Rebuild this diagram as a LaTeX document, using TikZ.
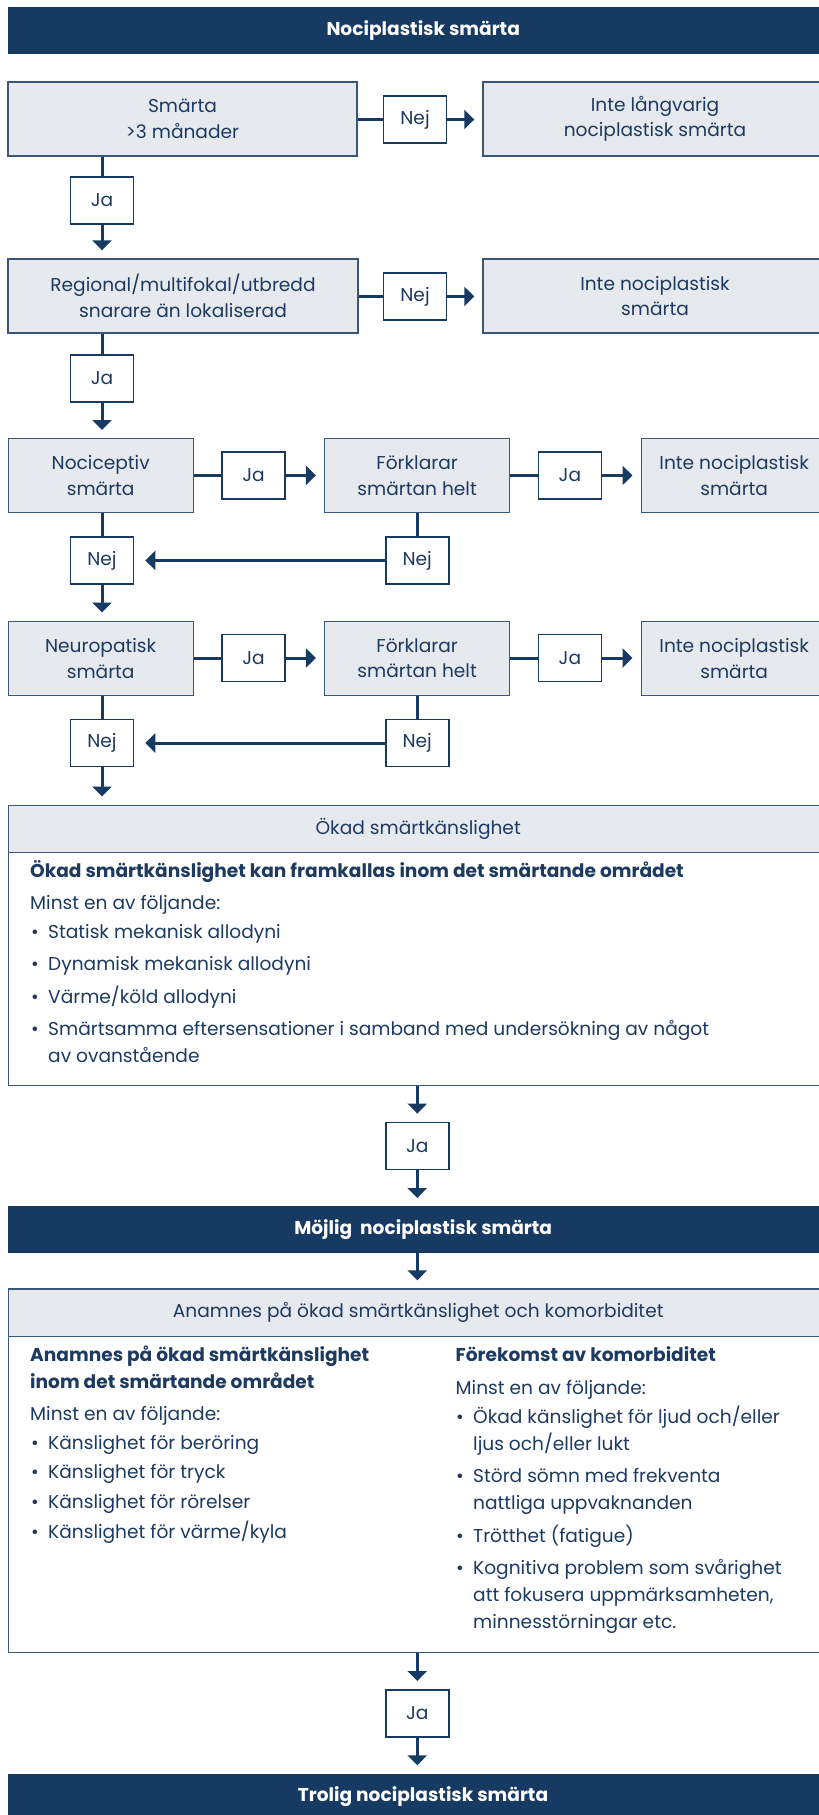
\documentclass[tikz,border=0pt]{standalone}
\usepackage{fontspec}
\setmainfont{Poppins}
\usetikzlibrary{arrows.meta}
\definecolor{navy}{HTML}{173A63}
\definecolor{txt}{HTML}{1D3A60}
\definecolor{lfill}{HTML}{E6E9EE}
\definecolor{bcol}{HTML}{3A5779}
\newcommand\fsz{\fontsize{18.6}{25.7}\selectfont}
\newcommand\bul{\makebox[17pt][l]{•}}
\begin{document}
\begin{tikzpicture}[x=1pt,y=-1pt,font=\fsz,text=txt,
  box/.style={draw=bcol, line width=1.4pt, fill=lfill, align=center, inner sep=0pt, minimum height=74pt},
  yn/.style={draw=navy, line width=1.6pt, fill=white, inner sep=0pt, minimum width=63pt, minimum height=47pt},
  bar/.style={fill=navy, text=white, font=\fsz\bfseries, inner sep=0pt, minimum width=830pt, minimum height=47pt, anchor=north west},
  bigbox/.style={draw=bcol, line width=1.4pt, fill=white, inner sep=0pt, minimum width=819pt, anchor=north west},
  head/.style={draw=bcol, line width=1.4pt, fill=lfill, inner sep=0pt, minimum width=819pt, minimum height=47.5pt, anchor=north west},
  conn/.style={draw=navy, line width=3pt},
  arr/.style={conn, -{Triangle[length=10pt,width=19pt]}, shorten >=8pt},
  larr/.style={conn, -{Triangle[length=10pt,width=19pt]}, shorten >=11pt},
  lbl/.style={anchor=west, inner sep=0pt, text height=0.72em, text depth=0.2em},
  bld/.style={lbl, font=\fsz\bfseries}]
\useasboundingbox (0,0) rectangle (819,1815);

% title
\node[bar] (T0) at (8,7) {Nociplastisk smärta};

% row 1
\node[box, minimum width=349pt] (A1) at (182.5,118.9) {Smärta\\>3 månader};
\node[yn] (N1) at (415,119.5) {Nej};
\node[box, minimum width=344pt] (B1) at (655,118.9) {Inte långvarig\\nociplastisk smärta};
\node[yn] (J1) at (102,200.4) {Ja};
% row 2
\node[box, minimum width=350pt] (A2) at (183,296) {Regional/multifokal/utbredd\\snarare än lokaliserad};
\node[yn] (N2) at (415,296.4) {Nej};
\node[box, minimum width=344pt] (B2) at (655,296) {Inte nociplastisk\\smärta};
\node[yn] (J2) at (102,378.5) {Ja};
% row 3
\node[box, minimum width=185pt] (C3) at (100.7,475.7) {Nociceptiv\\smärta};
\node[yn] (JA3) at (253.5,475.4) {Ja};
\node[box, minimum width=185pt] (F3) at (417.1,475.7) {Förklarar\\smärtan helt};
\node[yn] (JB3) at (569.9,475.4) {Ja};
\node[box, minimum width=186pt] (I3) at (734.2,475.7) {Inte nociplastisk\\smärta};
\node[yn] (NL3) at (102,560.4) {Nej};
\node[yn] (NR3) at (417.2,560.4) {Nej};
% row 4
\node[box, minimum width=185pt] (C4) at (100.7,658.2) {Neuropatisk\\smärta};
\node[yn] (JA4) at (253.5,658) {Ja};
\node[box, minimum width=185pt] (F4) at (417.1,658.2) {Förklarar\\smärtan helt};
\node[yn] (JB4) at (569.9,658) {Ja};
\node[box, minimum width=186pt] (I4) at (734.2,658.2) {Inte nociplastisk\\smärta};
\node[yn] (NL4) at (102,743) {Nej};
\node[yn] (NR4) at (417.2,743) {Nej};

% big box 1
\node[bigbox, minimum height=280.5pt] (K1) at (8,804.5) {};
\node[head] (K1h) at (8,804.5) {Ökad smärtkänslighet};
\node[bld] (k1a) at (30,875) {Ökad smärtkänslighet kan framkallas inom det smärtande området};
\node[lbl] (k1b) at (30,907.3) {Minst en av följande:};
\node[lbl] (k1c) at (31,935.7) {\bul Statisk mekanisk allodyni};
\node[lbl] (k1d) at (31,968.3) {\bul Dynamisk mekanisk allodyni};
\node[lbl] (k1e) at (31,1001) {\bul Värme/köld allodyni};
\node[lbl] (k1f) at (31,1033.3) {\bul Smärtsamma eftersensationer i samband med undersökning av något};
\node[lbl] (k1g) at (48,1060) {av ovanstående};

\node[yn] (J5) at (417.3,1145.9) {Ja};
\node[bar] (T1) at (8,1206) {Möjlig~ nociplastisk smärta};

% big box 2
\node[bigbox, minimum height=363.5pt] (K2) at (8,1288.3) {};
\node[head] (K2h) at (8,1288.3) {Anamnes på ökad smärtkänslighet och komorbiditet};
\node[bld] (l1) at (30,1359.1) {Anamnes på ökad smärtkänslighet};
\node[bld] (l2) at (30,1385.7) {inom det smärtande området};
\node[lbl] (l3) at (30,1418.2) {Minst en av följande:};
\node[lbl] (l4) at (31,1446.5) {\bul Känslighet för beröring};
\node[lbl] (l5) at (31,1476.3) {\bul Känslighet för tryck};
\node[lbl] (l6) at (31,1506) {\bul Känslighet för rörelser};
\node[lbl] (l7) at (31,1535.7) {\bul Känslighet för värme/kyla};
\node[bld] (r1) at (455.5,1359.1) {Förekomst av komorbiditet};
\node[lbl] (r2) at (455.5,1391.7) {Minst en av följande:};
\node[lbl] (r3) at (456,1421) {\bul Ökad känslighet för ljud och/eller};
\node[lbl] (r4) at (473,1447.6) {ljus och/eller lukt};
\node[lbl] (r5) at (456,1480.2) {\bul Störd sömn med frekventa};
\node[lbl] (r6) at (473,1506.7) {nattliga uppvaknanden};
\node[lbl] (r7) at (456,1539.6) {\bul Trötthet (fatigue)};
\node[lbl] (r8) at (456,1572.2) {\bul Kognitiva problem som svårighet};
\node[lbl] (r9) at (473,1599.1) {att fokusera uppmärksamheten,};
\node[lbl] (r10) at (473,1625.6) {minnesstörningar etc.};

\node[yn] (J6) at (417.3,1713.3) {Ja};
\node[bar, minimum height=60pt] (T2) at (8,1773.3) {};
\node[text=white, font=\fsz\bfseries] (T2t) at (423,1796.3) {Trolig nociplastisk smärta};

% connectors
\draw[conn] (A1.east |- N1.west) -- (N1.west);
\draw[arr] (N1.east) -- (N1.east -| B1.west);
\draw[conn] (J1.north |- A1.south) -- (J1.north);
\draw[arr] (J1.south) -- (J1.south |- A2.north);
\draw[conn] (A2.east |- N2.west) -- (N2.west);
\draw[arr] (N2.east) -- (N2.east -| B2.west);
\draw[conn] (J2.north |- A2.south) -- (J2.north);
\draw[arr] (J2.south) -- (J2.south |- C3.north);

\draw[conn] (C3.east |- JA3.west) -- (JA3.west);
\draw[arr] (JA3.east) -- (JA3.east -| F3.west);
\draw[conn] (F3.east |- JB3.west) -- (JB3.west);
\draw[arr] (JB3.east) -- (JB3.east -| I3.west);
\draw[conn] (NL3.north |- C3.south) -- (NL3.north);
\draw[conn] (NR3.north |- F3.south) -- (NR3.north);
\draw[larr] (NR3.west) -- (NL3.east);
\draw[arr] (NL3.south) -- (NL3.south |- C4.north);

\draw[conn] (C4.east |- JA4.west) -- (JA4.west);
\draw[arr] (JA4.east) -- (JA4.east -| F4.west);
\draw[conn] (F4.east |- JB4.west) -- (JB4.west);
\draw[arr] (JB4.east) -- (JB4.east -| I4.west);
\draw[conn] (NL4.north |- C4.south) -- (NL4.north);
\draw[conn] (NR4.north |- F4.south) -- (NR4.north);
\draw[larr] (NR4.west) -- (NL4.east);
\draw[arr] (NL4.south) -- (NL4.south |- K1.north);

\draw[arr] (J5.north |- K1.south) -- (J5.north);
\draw[arr] (J5.south) -- (J5.south |- T1.north);
\draw[arr] (J5.south |- T1.south) -- (J5.south |- K2.north);
\draw[arr] (J6.north |- K2.south) -- (J6.north);
\draw[arr] (J6.south) -- (J6.south |- T2.north);
\end{tikzpicture}
\end{document}
